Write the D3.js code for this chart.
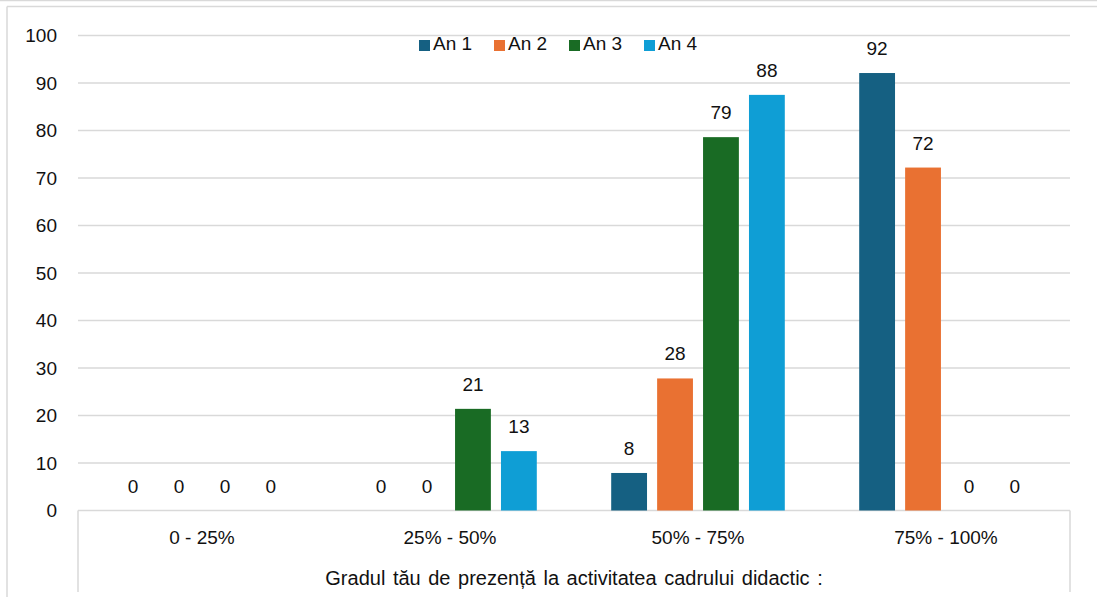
<!DOCTYPE html>
<html><head><meta charset="utf-8">
<script src="https://cdn.jsdelivr.net/npm/d3@7"></script>
<style>
html,body{margin:0;padding:0;background:#fff;}
svg{display:block;}
text{font-family:"Liberation Sans",Arial,sans-serif;fill:#111;}
</style></head>
<body>
<svg id="c" width="1097" height="597"></svg>
<script>
const categories = ["0 - 25%", "25% - 50%", "50% - 75%", "75% - 100%"];
const seriesNames = ["An 1", "An 2", "An 3", "An 4"];
const an1 = [0, 0, 7.9, 92.1];
const an2 = [0, 0, 27.8, 72.2];
const an3 = [0, 21.4, 78.6, 0];
const an4 = [0, 12.5, 87.5, 0];
const yTicks = [0, 10, 20, 30, 40, 50, 60, 70, 80, 90, 100];
const xTitle = "Gradul tău de prezență la activitatea cadrului didactic :";
const colors = ["#156082", "#E97132", "#196B24", "#0F9ED5"];

(function(){
const seriesValues = [an1, an2, an3, an4];
const svg = d3.select("#c");
const pLeft = 78, pRight = 1070, pTop = 35.5, pBottom = 510.5;
const fs = 19;

// outer frame
svg.append("line").attr("x1",0).attr("x2",1097).attr("y1",0.5).attr("y2",0.5).attr("stroke","#d9d9d9").attr("stroke-width",1.5);
svg.append("line").attr("x1",7).attr("x2",1097).attr("y1",6.5).attr("y2",6.5).attr("stroke","#d9d9d9").attr("stroke-width",1.5);
svg.append("line").attr("x1",7).attr("x2",7).attr("y1",6.5).attr("y2",597).attr("stroke","#d9d9d9").attr("stroke-width",1.5);

const y = d3.scaleLinear().domain([0, 100]).range([pBottom, pTop]);
const x0 = d3.scaleBand().domain(categories).range([pLeft, pRight]).padding(0);
const bw = x0.bandwidth();
const x1 = d3.scaleBand().domain(seriesNames).range([bw*0.15, bw*0.85]).paddingInner(0.22);

// gridlines
svg.append("g").selectAll("line").data(yTicks).join("line")
  .attr("x1", pLeft).attr("x2", pRight)
  .attr("y1", d => y(d)).attr("y2", d => y(d))
  .attr("stroke", "#d9d9d9").attr("stroke-width", 1.5);

// y tick labels
svg.append("g").selectAll("text").data(yTicks).join("text")
  .attr("x", 57).attr("y", d => y(d)).attr("dy", "0.36em")
  .attr("text-anchor", "end").attr("font-size", fs).text(d => d);

// category table lines
svg.append("line").attr("x1",pLeft).attr("x2",pLeft).attr("y1",pBottom).attr("y2",592).attr("stroke","#d9d9d9").attr("stroke-width",1.5);
svg.append("line").attr("x1",pRight).attr("x2",pRight).attr("y1",pBottom).attr("y2",592).attr("stroke","#d9d9d9").attr("stroke-width",1.5);

// bars
const data = [];
categories.forEach((c, i) => seriesNames.forEach((s, j) => data.push({c, s, v: seriesValues[j][i], color: colors[j]})));
const g = svg.append("g");
g.selectAll("rect").data(data.filter(d => d.v > 0)).join("rect")
  .attr("x", d => x0(d.c) + x1(d.s))
  .attr("width", x1.bandwidth())
  .attr("y", d => y(d.v))
  .attr("height", d => y(0) - y(d.v))
  .attr("fill", d => d.color);

// value labels
g.selectAll("text").data(data).join("text")
  .attr("x", d => x0(d.c) + x1(d.s) + x1.bandwidth()/2)
  .attr("y", d => y(d.v) - 18)
  .attr("text-anchor", "middle").attr("font-size", fs)
  .text(d => Math.round(d.v));

// category labels
svg.append("g").selectAll("text").data(categories).join("text")
  .attr("x", d => x0(d) + bw/2).attr("y", 544)
  .attr("text-anchor", "middle").attr("font-size", fs).text(d => d);

// axis title
svg.append("text").attr("x", (pLeft+pRight)/2).attr("y", 585)
  .attr("text-anchor", "middle").attr("font-size", 20).attr("word-spacing", 2).text(xTitle);

// legend
const leg = svg.append("g");
seriesNames.forEach((s, i) => {
  const lx = 419 + i*75;
  leg.append("rect").attr("x", lx).attr("y", 40).attr("width", 11).attr("height", 11).attr("fill", colors[i]);
  leg.append("text").attr("x", lx + 14).attr("y", 50).attr("font-size", fs).text(s);
});
})();
</script>
</body></html>
